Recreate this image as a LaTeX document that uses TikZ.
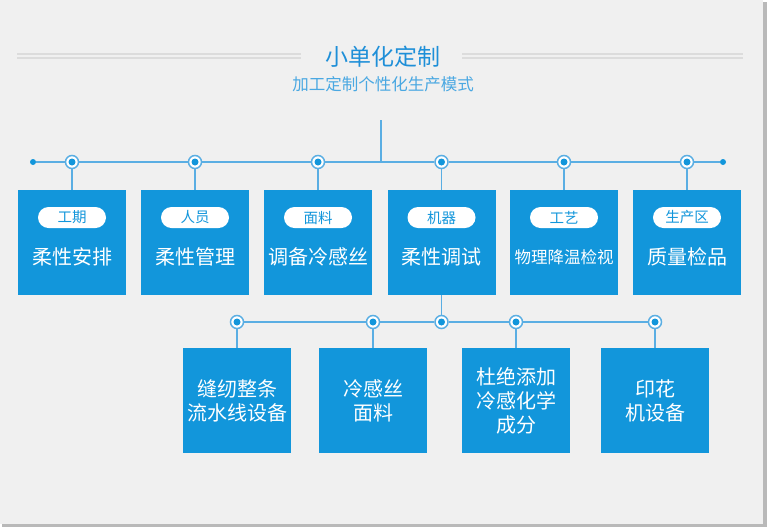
\documentclass[tikz,border=0pt]{standalone}
\usepackage{fontspec}
\setmainfont{Noto Sans CJK SC}
\usetikzlibrary{positioning}

\definecolor{boxblue}{HTML}{1296DB}
\definecolor{lineblue}{HTML}{5AAEE3}
\definecolor{titleblue}{HTML}{1E8FD8}
\definecolor{subblue}{HTML}{4AA8E2}
\definecolor{bggray}{HTML}{F0F0F0}
\definecolor{rulegray}{HTML}{DCDCDC}

\begin{document}
\begin{tikzpicture}[x=1pt,y=-1pt,
    box/.style={rectangle, fill=boxblue, minimum width=108pt, minimum height=105pt, inner sep=0pt},
    pill/.style={rectangle, rounded corners=10.5pt, fill=white, text=boxblue, minimum width=68pt, minimum height=21pt, inner sep=0pt, font=\fontsize{14.5}{16}\selectfont},
    boxtext/.style={text=white, align=center, inner sep=0pt, font=\fontsize{20}{24}\selectfont},
    junction/.style={circle, draw=lineblue, line width=1.5pt, fill=white, minimum size=13pt, inner sep=0pt,
        path picture={\fill[boxblue] (path picture bounding box.center) circle (3.5pt);}},
    enddot/.style={circle, fill=boxblue, minimum size=6pt, inner sep=0pt},
    link/.style={draw=lineblue, line width=1.5pt}]

    % Background and frame shadow
    \useasboundingbox (0,0) rectangle (768,528);
    \fill[white] (0,0) rectangle (768,528);
    \fill[gray!55] (762,2) rectangle (767,527);
    \fill[gray!55] (2,523) rectangle (767,527);
    \fill[bggray] (0,0) rectangle (763,524);

    % Title
    \node[text=titleblue, font=\fontsize{23}{27}\selectfont] (title) at (383,57) {小单化定制};
    \node[text=subblue, font=\fontsize{16.5}{19}\selectfont] (subtitle) at (383,84) {加工定制个性化生产模式};
    \draw[rulegray, line width=1.2pt] (17,54) -- (301,54) (17,58) -- (301,58);
    \draw[rulegray, line width=1.2pt] (462,54) -- (743,54) (462,58) -- (743,58);

    % Top row of boxes
    \node[box] (t1) at (72,242.5) {};
    \node[box] (t2) at (195,242.5) {};
    \node[box] (t3) at (318,242.5) {};
    \node[box] (t4) at (441.5,242.5) {};
    \node[box] (t5) at (564,242.5) {};
    \node[box] (t6) at (687,242.5) {};

    \node[pill, below=17pt of t1.north] (p1) {工期};
    \node[pill, below=17pt of t2.north] (p2) {人员};
    \node[pill, below=17pt of t3.north] (p3) {面料};
    \node[pill, below=17pt of t4.north] (p4) {机器};
    \node[pill, below=17pt of t5.north] (p5) {工艺};
    \node[pill, below=17pt of t6.north] (p6) {生产区};

    \node[boxtext] (t1txt) at ([yshift=-14.5pt]t1.center) {柔性安排};
    \node[boxtext] (t2txt) at ([yshift=-14.5pt]t2.center) {柔性管理};
    \node[boxtext] (t3txt) at ([yshift=-14.5pt]t3.center) {调备冷感丝};
    \node[boxtext] (t4txt) at ([yshift=-14.5pt]t4.center) {柔性调试};
    \node[boxtext, font=\fontsize{16.5}{20}\selectfont] (t5txt) at ([yshift=-14.5pt]t5.center) {物理降温检视};
    \node[boxtext] (t6txt) at ([yshift=-14.5pt]t6.center) {质量检品};

    % Top junctions
    \node[enddot] (lend) at (33,162) {};
    \node[enddot] (rend) at (723,162) {};
    \node[junction] (c1) at (72,162) {};
    \node[junction] (c2) at (195,162) {};
    \node[junction] (c3) at (318,162) {};
    \node[junction] (c4) at (441.5,162) {};
    \node[junction] (c5) at (564,162) {};
    \node[junction] (c6) at (687,162) {};
    \coordinate (stem) at (381,120);

    \path[link] (lend) -- (c1) -- (c2) -- (c3) -- (c4) -- (c5) -- (c6) -- (rend);
    \path[link] (stem) -- (stem |- c1);
    \path[link] (c1) -- (t1);
    \path[link] (c2) -- (t2);
    \path[link] (c3) -- (t3);
    \path[link] (c4) -- (t4);
    \path[link] (c5) -- (t5);
    \path[link] (c6) -- (t6);

    % Bottom row of boxes
    \node[box] (b1) at (237,400.5) {};
    \node[box] (b2) at (373,400.5) {};
    \node[box] (b3) at (516,400.5) {};
    \node[box] (b4) at (655,400.5) {};

    \node[boxtext] (b1txt) at (b1) {缝纫整条\\流水线设备};
    \node[boxtext] (b2txt) at (b2) {冷感丝\\面料};
    \node[boxtext] (b3txt) at (b3) {杜绝添加\\冷感化学\\成分};
    \node[boxtext] (b4txt) at (b4) {印花\\机设备};

    % Bottom junctions
    \node[junction] (s1) at (237,322) {};
    \node[junction] (s2) at (373,322) {};
    \node[junction] (s0) at (441.5,322) {};
    \node[junction] (s3) at (516,322) {};
    \node[junction] (s4) at (655,322) {};

    \path[link] (s1) -- (s2) -- (s0) -- (s3) -- (s4);
    \path[link] (t4) -- (s0);
    \path[link] (s1) -- (b1);
    \path[link] (s2) -- (b2);
    \path[link] (s3) -- (b3);
    \path[link] (s4) -- (b4);

\end{tikzpicture}
\end{document}
